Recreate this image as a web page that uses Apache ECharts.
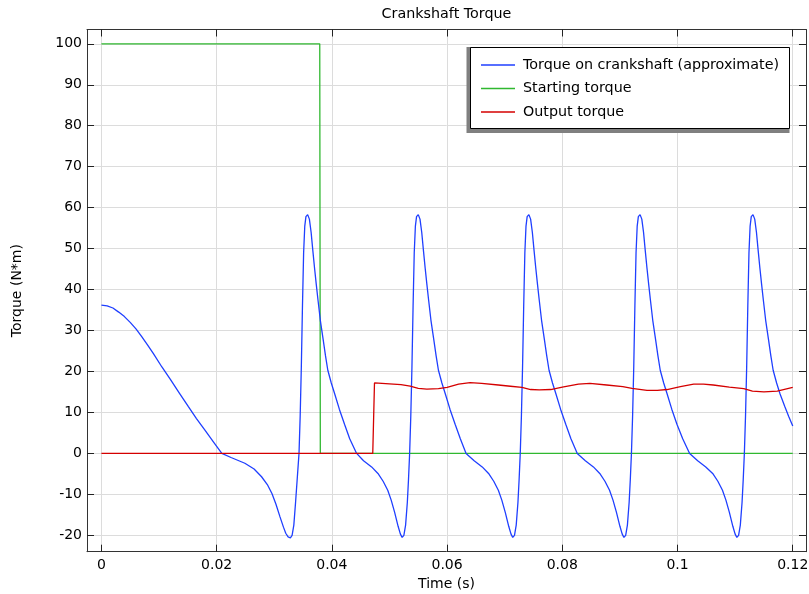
<!DOCTYPE html>
<html>
<head>
<meta charset="utf-8">
<script src="https://cdn.jsdelivr.net/npm/echarts@6/dist/echarts.min.js"></script>
<style>
html,body{margin:0;padding:0;background:#fff;}
#chart{width:809px;height:594px;}
</style>
</head>
<body>
<div id="chart"></div>
<script>
// ---- data ----
const titleText = 'Crankshaft Torque';
const xName = 'Time (s)';
const yName = 'Torque (N*m)';
const xTicks = [0, 0.02, 0.04, 0.06, 0.08, 0.1, 0.12];
const yTicks = [-20, -10, 0, 10, 20, 30, 40, 50, 60, 70, 80, 90, 100];
const seriesNames = ['Torque on crankshaft (approximate)', 'Starting torque', 'Output torque'];

const crankTorque = [
  [0,36.2],[0.001,36.0],[0.002,35.5],[0.003,34.5],[0.004,33.4],[0.005,32.0],[0.006,30.4],[0.007,28.5],
  [0.008,26.5],[0.009,24.4],[0.0105,21.1],[0.012,18.0],[0.0135,14.8],[0.0151,11.4],[0.0165,8.5],
  [0.018,5.6],[0.0195,2.7],[0.0209,0],
  [0.0225,-1.0],[0.0249,-2.4],[0.0265,-3.8],[0.0278,-5.7],[0.0288,-7.6],[0.0296,-9.8],[0.0303,-12.4],
  [0.0310,-15.5],[0.0316,-18.0],[0.0320,-19.5],[0.0324,-20.4],[0.0328,-20.6],[0.0331,-20.0],[0.0334,-17.5],
  [0.0337,-12.0],[0.0340,-6.0],[0.0343,0],
  [0.0345,9],[0.0347,21],[0.0349,36],[0.0351,49],[0.0353,55.5],[0.0355,57.8],[0.0358,58.3],[0.0361,57.2],
  [0.0364,54.0],[0.0367,49.5],[0.0370,45.2],[0.0373,41.2],[0.0376,37.4],[0.0380,32.5],[0.0385,27.7],
  [0.0389,23.8],[0.0393,20.3],[0.0399,17.2],[0.0405,14.5],[0.0413,10.8],[0.0422,7.1],[0.0431,3.6],[0.0443,0],
  [0.0455,-1.8],[0.0469,-3.3],[0.0480,-4.9],[0.0489,-6.8],[0.0497,-9.0],[0.0503,-11.4],[0.0509,-14.4],
  [0.0515,-17.8],[0.0519,-19.7],[0.0522,-20.5],[0.0525,-20.0],[0.0528,-17.5],[0.0531,-12.0],[0.0533,-6.5],[0.0535,0],
  [0.0537,9],[0.0539,21],[0.0541,36],[0.0543,49],[0.0545,55.5],[0.0547,57.8],[0.0550,58.3],[0.0553,57.2],
  [0.0556,54.0],[0.0559,49.5],[0.0562,45.2],[0.0565,41.2],[0.0568,37.4],[0.0572,32.5],[0.0577,27.7],
  [0.0581,23.8],[0.0585,20.3],[0.0591,17.2],[0.0597,14.5],[0.0605,10.8],[0.0614,7.1],[0.0623,3.6],[0.0633,0],
  [0.0647,-1.8],[0.0661,-3.3],[0.0672,-4.9],[0.0681,-6.8],[0.0689,-9.0],[0.0695,-11.4],[0.0701,-14.4],
  [0.0707,-17.8],[0.0711,-19.7],[0.0714,-20.5],[0.0717,-20.0],[0.0720,-17.5],[0.0723,-12.0],[0.0725,-6.5],[0.0727,0],
  [0.0729,9],[0.0731,21],[0.0733,36],[0.0735,49],[0.0737,55.5],[0.0739,57.8],[0.0742,58.3],[0.0745,57.2],
  [0.0748,54.0],[0.0751,49.5],[0.0754,45.2],[0.0757,41.2],[0.0760,37.4],[0.0764,32.5],[0.0769,27.7],
  [0.0773,23.8],[0.0777,20.3],[0.0783,17.2],[0.0789,14.5],[0.0797,10.8],[0.0806,7.1],[0.0815,3.6],[0.0826,0],
  [0.0840,-1.8],[0.0854,-3.3],[0.0865,-4.9],[0.0874,-6.8],[0.0882,-9.0],[0.0888,-11.4],[0.0894,-14.4],
  [0.0900,-17.8],[0.0904,-19.7],[0.0907,-20.5],[0.0910,-20.0],[0.0913,-17.5],[0.0916,-12.0],[0.0918,-6.5],[0.0920,0],
  [0.0922,9],[0.0924,21],[0.0926,36],[0.0928,49],[0.0930,55.5],[0.0932,57.8],[0.0935,58.3],[0.0938,57.2],
  [0.0941,54.0],[0.0944,49.5],[0.0947,45.2],[0.0950,41.2],[0.0953,37.4],[0.0957,32.5],[0.0962,27.7],
  [0.0966,23.8],[0.0970,20.3],[0.0976,17.2],[0.0982,14.5],[0.0990,10.8],[0.0999,7.1],[0.1009,3.6],[0.1021,0],
  [0.1035,-1.8],[0.1049,-3.3],[0.1061,-4.9],[0.1070,-6.8],[0.1078,-9.0],[0.1084,-11.4],[0.1090,-14.4],
  [0.1096,-17.8],[0.1100,-19.7],[0.1103,-20.5],[0.1106,-20.0],[0.1109,-17.5],[0.1112,-12.0],[0.1114,-6.5],[0.1116,0],
  [0.1118,9],[0.1120,21],[0.1122,36],[0.1124,49],[0.1126,55.5],[0.1128,57.8],[0.1131,58.3],[0.1134,57.2],
  [0.1137,54.0],[0.1140,49.5],[0.1143,45.2],[0.1146,41.2],[0.1149,37.4],[0.1153,32.5],[0.1158,27.7],
  [0.1162,23.8],[0.1166,20.3],[0.1172,17.2],[0.1178,14.5],[0.1186,11.5],[0.1193,9.0],[0.1200,6.7]
];

const startingTorque = [[0,100],[0.0379,100],[0.0380,0],[0.12,0]];

const outputTorque = [
  [0,0],[0.0471,0],[0.0474,17.2],[0.0500,17.0],[0.0520,16.8],[0.0536,16.4],[0.0550,15.9],[0.0565,15.7],
  [0.0585,15.8],[0.0600,16.1],[0.0620,16.9],[0.0640,17.3],[0.0660,17.1],[0.0689,16.7],[0.0710,16.4],
  [0.0730,16.1],[0.0745,15.6],[0.0760,15.5],[0.0780,15.6],[0.0800,16.2],[0.0828,16.9],[0.0848,17.1],
  [0.0877,16.7],[0.0905,16.3],[0.0921,15.9],[0.0947,15.4],[0.0965,15.4],[0.0982,15.6],[0.1005,16.3],
  [0.1028,16.9],[0.1045,16.9],[0.1062,16.7],[0.1090,16.2],[0.1115,15.8],[0.1130,15.2],[0.1150,15.0],
  [0.1173,15.2],[0.1200,16.1]
];

// ---- chart ----
const FONT = 'DejaVu Sans';
const xMin = -0.0025, xMax = 0.1223, yMin = -24, yMax = 103.5;
const chart = echarts.init(document.getElementById('chart'), null, {renderer: 'canvas'});

const frameAxisLine = {show: true, onZero: false, lineStyle: {color: '#333', width: 1}};
const innerTick = (vals) => ({show: true, inside: true, length: 7, customValues: vals, lineStyle: {color: '#222', width: 1}});

chart.setOption({
  animation: false,
  textStyle: {fontFamily: FONT},
  grid: {left: 87, right: 3, top: 29.5, bottom: 42.3, containLabel: false, outerBoundsMode: 'none'},
  graphic: [
    {type: 'text', z: 10, style: {text: titleText, x: 446.5, y: 14.5, textAlign: 'center', textVerticalAlign: 'middle', font: '14.3px "DejaVu Sans"', fill: '#000'}},
    {type: 'rect', z: 1, shape: {x: 466.5, y: 47, width: 323, height: 86}, style: {fill: '#808080'}},
    {type: 'rect', z: 2, shape: {x: 470.5, y: 47.5, width: 319, height: 81}, style: {fill: '#fff', stroke: '#000', lineWidth: 1}}
  ],
  legend: {
    show: true, z: 10, orient: 'vertical', left: 470, top: 47,
    padding: [10, 11, 10, 11], itemWidth: 34, itemHeight: 1.3, itemGap: 7.5,
    icon: 'rect',
    textStyle: {fontSize: 14.3, lineHeight: 16, color: '#000', fontFamily: FONT, padding: [0, 0, 0, 3]},
    data: seriesNames
  },
  xAxis: [
    {type: 'value', position: 'bottom', min: xMin, max: xMax,
     name: xName, nameLocation: 'middle', nameGap: 21,
     nameTextStyle: {fontSize: 14, color: '#000', fontFamily: FONT},
     axisLine: frameAxisLine, axisTick: innerTick(xTicks),
     axisLabel: {customValues: xTicks, fontSize: 14, color: '#000', margin: 7, fontFamily: FONT, formatter: v => String(v)},
     splitLine: {show: true, lineStyle: {color: '#dcdcdc', width: 1}}},
    {type: 'value', position: 'top', min: xMin, max: xMax,
     axisLine: frameAxisLine, axisTick: innerTick(xTicks),
     axisLabel: {show: false}, splitLine: {show: false}}
  ],
  yAxis: [
    {type: 'value', position: 'left', min: yMin, max: yMax,
     name: yName, nameLocation: 'middle', nameGap: 63, nameRotate: 90,
     nameTextStyle: {fontSize: 14, color: '#000', fontFamily: FONT},
     axisLine: frameAxisLine, axisTick: innerTick(yTicks),
     axisLabel: {customValues: yTicks, fontSize: 14, color: '#000', margin: 5, fontFamily: FONT},
     splitLine: {show: true, lineStyle: {color: '#dcdcdc', width: 1}}},
    {type: 'value', position: 'right', min: yMin, max: yMax,
     axisLine: frameAxisLine, axisTick: innerTick(yTicks),
     axisLabel: {show: false}, splitLine: {show: false}}
  ],
  series: [
    {name: seriesNames[0], type: 'line', data: crankTorque, symbol: 'none', smooth: false,
     lineStyle: {color: '#1f3fff', width: 1.3}, itemStyle: {color: '#1f3fff'}, z: 3},
    {name: seriesNames[1], type: 'line', data: startingTorque, symbol: 'none',
     lineStyle: {color: '#30b830', width: 1.3}, itemStyle: {color: '#30b830'}, z: 2},
    {name: seriesNames[2], type: 'line', data: outputTorque, symbol: 'none',
     lineStyle: {color: '#d40000', width: 1.3}, itemStyle: {color: '#d40000'}, z: 4}
  ]
});
</script>
</body>
</html>
